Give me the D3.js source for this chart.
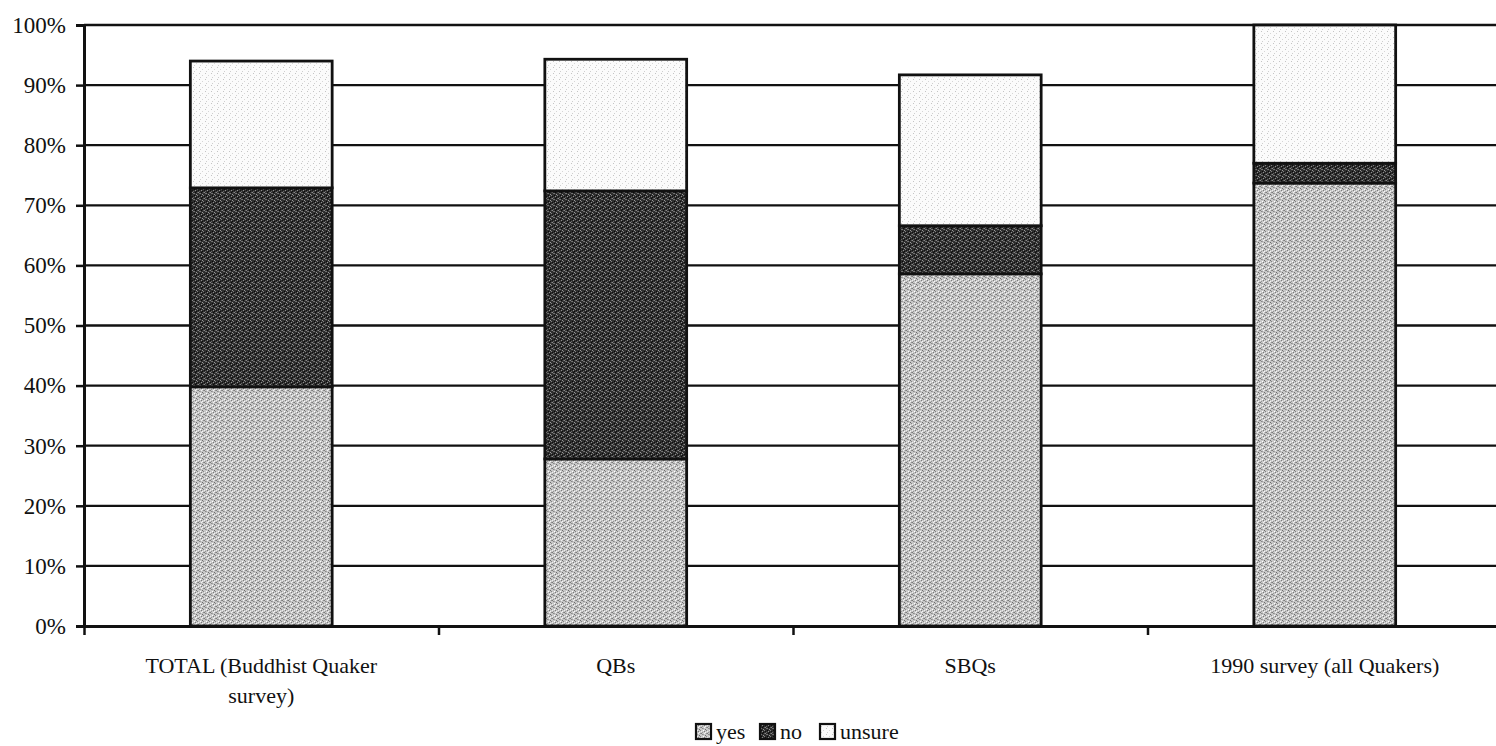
<!DOCTYPE html>
<html>
<head>
<meta charset="utf-8">
<script src="https://cdn.jsdelivr.net/npm/d3@7/dist/d3.min.js"></script>
<style>
  html, body { margin: 0; padding: 0; background: #fff; }
  svg { display: block; }
  text { font-family: "Liberation Serif", "DejaVu Serif", serif; fill: #111; }
</style>
</head>
<body>
<svg id="chart" width="1496" height="746"></svg>
<script>
// Survey answers by group (percent of respondents)
const categories = [
  ["TOTAL (Buddhist Quaker", "survey)"],
  ["QBs"],
  ["SBQs"],
  ["1990 survey (all Quakers)"]
];
const seriesNames = ["yes", "no", "unsure"];
const yesValues    = [39.8, 27.8, 58.6, 73.7];
const noValues     = [33.1, 44.6, 8.0, 3.3];
const unsureValues = [21.1, 21.9, 25.1, 23.0];
const yTicks = [0, 10, 20, 30, 40, 50, 60, 70, 80, 90, 100];

const svg = d3.select("#chart");
const margin = { left: 84, top: 25, right: 1502, bottom: 626 };

// Fill textures for the three answers
const defs = svg.append("defs");
function texture(id, base, dots) {
  const p = defs.append("pattern")
    .attr("id", id).attr("patternUnits", "userSpaceOnUse")
    .attr("width", 6).attr("height", 6);
  p.append("rect").attr("width", 6).attr("height", 6).attr("fill", base);
  dots.forEach(([x, y, c]) => p.append("rect")
    .attr("x", x).attr("y", y).attr("width", 1).attr("height", 1).attr("fill", c));
}
texture("fill-yes", "#c8c8c8", [
  [0,0,"#7a7a7a"],[3,0,"#f2f2f2"],[1,1,"#8a8a8a"],[4,2,"#6c6c6c"],[2,3,"#ffffff"],
  [5,3,"#858585"],[0,4,"#ededed"],[3,4,"#787878"],[1,5,"#959595"],[4,5,"#f5f5f5"],[2,1,"#a0a0a0"],[5,0,"#909090"]
]);
texture("fill-no", "#2e2e2e", [
  [0,0,"#8a8a8a"],[3,0,"#0a0a0a"],[1,1,"#6d6d6d"],[4,2,"#9a9a9a"],[2,3,"#0a0a0a"],
  [5,3,"#7f7f7f"],[0,4,"#111"],[3,4,"#909090"],[1,5,"#676767"],[4,5,"#0d0d0d"],[2,1,"#757575"],[5,0,"#5f5f5f"]
]);
texture("fill-unsure", "#fbfbfb", [
  [1,1,"#c4c4c4"],[4,3,"#d6d6d6"],[2,5,"#cfcfcf"]
]);
const fills = { yes: "url(#fill-yes)", no: "url(#fill-no)", unsure: "url(#fill-unsure)" };

const x = d3.scaleBand()
  .domain(d3.range(categories.length))
  .range([margin.left, margin.right])
  .paddingInner(0.6)
  .paddingOuter(0.3);

const xDiv = d3.scaleLinear()
  .domain([0, categories.length])
  .range([margin.left, margin.right]);

const y = d3.scaleLinear().domain([0, 100]).range([margin.bottom, margin.top]);

// Horizontal gridlines
svg.append("g")
  .selectAll("line")
  .data(yTicks.filter(d => d > 0))
  .join("line")
  .attr("x1", margin.left).attr("x2", margin.right)
  .attr("y1", d => y(d)).attr("y2", d => y(d))
  .attr("stroke", "#111").attr("stroke-width", 2.3);

// Stacked bars
const rows = categories.map((c, i) => ({
  i, yes: yesValues[i], no: noValues[i], unsure: unsureValues[i]
}));
const stacked = d3.stack().keys(seriesNames)(rows);

svg.append("g")
  .selectAll("g")
  .data(stacked)
  .join("g")
  .attr("fill", s => fills[s.key])
  .selectAll("rect")
  .data(s => s)
  .join("rect")
  .attr("x", d => x(d.data.i))
  .attr("width", x.bandwidth())
  .attr("y", d => y(d[1]))
  .attr("height", d => y(d[0]) - y(d[1]))
  .attr("stroke", "#111")
  .attr("stroke-width", 2.8);

// Y axis
const yAxis = svg.append("g")
  .attr("transform", `translate(${margin.left},0)`)
  .call(d3.axisLeft(y).tickValues(yTicks).tickFormat(d => d + "%").tickSize(8).tickPadding(10));
yAxis.select(".domain").attr("stroke", "#111").attr("stroke-width", 3);
yAxis.selectAll(".tick line").attr("stroke", "#111").attr("stroke-width", 2.5);
yAxis.selectAll(".tick text")
  .attr("font-family", "Liberation Serif, DejaVu Serif, serif")
  .attr("font-size", 23).attr("fill", "#111");

// X axis line with ticks between categories
const xAxis = svg.append("g")
  .attr("transform", `translate(0,${margin.bottom})`)
  .call(d3.axisBottom(xDiv).tickValues(d3.range(categories.length + 1)).tickFormat("").tickSize(9).tickSizeOuter(0));
xAxis.select(".domain").attr("stroke", "#111").attr("stroke-width", 3);
xAxis.selectAll(".tick line").attr("stroke", "#111").attr("stroke-width", 2.5);

// Category labels
const labels = svg.append("g")
  .selectAll("text")
  .data(categories)
  .join("text")
  .attr("x", (d, i) => x(i) + x.bandwidth() / 2)
  .attr("y", 673)
  .attr("text-anchor", "middle")
  .attr("font-size", 22);
labels.selectAll("tspan")
  .data(d => d)
  .join("tspan")
  .attr("x", function () { return d3.select(this.parentNode).attr("x"); })
  .attr("dy", (d, j) => j === 0 ? 0 : 30)
  .text(d => d);

// Legend
const legend = svg.append("g").attr("transform", "translate(695,739)");
const legendOffsets = [0, 64, 124];
seriesNames.forEach((name, i) => {
  const g = legend.append("g").attr("transform", `translate(${legendOffsets[i]},0)`);
  g.append("rect")
    .attr("x", 1).attr("y", -15).attr("width", 15).attr("height", 15)
    .attr("fill", fills[name]).attr("stroke", "#111").attr("stroke-width", 2.2);
  g.append("text").attr("x", 21).attr("y", 0).attr("font-size", 22).text(name);
});
</script>
</body>
</html>
